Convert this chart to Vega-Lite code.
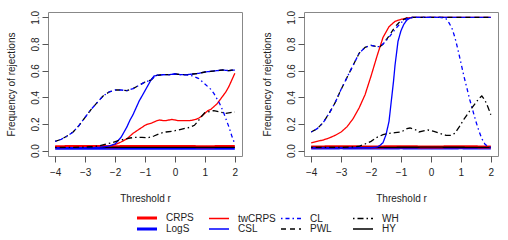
{
  "$schema": "https://vega.github.io/schema/vega-lite/v6.json",
  "padding": {"left": 5, "top": 9, "right": 5, "bottom": 0},
  "background": "white",
  "config": {
    "font": "Liberation Sans",
    "view": {"stroke": "#888888", "strokeWidth": 1},
    "axis": {"domain": false, "grid": false, "tickColor": "#555555", "tickSize": 6, "tickWidth": 1,
      "labelFont": "Liberation Sans", "labelFontSize": 10, "labelColor": "#222222",
      "titleFont": "Liberation Sans", "titleFontSize": 10, "titleFontWeight": "normal", "titleColor": "#222222",
      "labelFlush": false, "labelOverlap": false},
    "axisX": {"labelPadding": 5, "titleY": 45, "titleBaseline": "alphabetic"},
    "axisY": {"labelAngle": 270, "labelAlign": "center", "labelBaseline": "alphabetic", "labelPadding": 4,
      "titleX": -34, "titleBaseline": "alphabetic", "titleAngle": 270},
    "legend": {"labelFont": "Liberation Sans", "labelFontSize": 10, "labelColor": "#222222"}
  },
  "datasets": {
    "d": [
      {"p":"A","s":"LogS","r":-4,"v":0.018},{"p":"A","s":"LogS","r":-3,"v":0.019},{"p":"A","s":"LogS","r":-2,"v":0.018},{"p":"A","s":"LogS","r":-1,"v":0.019},{"p":"A","s":"LogS","r":0,"v":0.018},{"p":"A","s":"LogS","r":1,"v":0.019},{"p":"A","s":"LogS","r":2,"v":0.018},
      {"p":"A","s":"CRPS","r":-4,"v":0.03},{"p":"A","s":"CRPS","r":-3,"v":0.031},{"p":"A","s":"CRPS","r":-2,"v":0.03},{"p":"A","s":"CRPS","r":-1,"v":0.032},{"p":"A","s":"CRPS","r":0,"v":0.031},{"p":"A","s":"CRPS","r":1,"v":0.03},{"p":"A","s":"CRPS","r":2,"v":0.031},
      {"p":"A","s":"HY","r":-4,"v":0.024},{"p":"A","s":"HY","r":-2,"v":0.024},{"p":"A","s":"HY","r":0,"v":0.025},{"p":"A","s":"HY","r":2,"v":0.024},
      {"p":"A","s":"twCRPS","r":-4,"v":0.03},{"p":"A","s":"twCRPS","r":-3.5,"v":0.03},{"p":"A","s":"twCRPS","r":-3,"v":0.03},{"p":"A","s":"twCRPS","r":-2.5,"v":0.032},{"p":"A","s":"twCRPS","r":-2.2,"v":0.035},{"p":"A","s":"twCRPS","r":-2.0,"v":0.045},{"p":"A","s":"twCRPS","r":-1.8,"v":0.065},{"p":"A","s":"twCRPS","r":-1.6,"v":0.09},{"p":"A","s":"twCRPS","r":-1.4,"v":0.13},{"p":"A","s":"twCRPS","r":-1.2,"v":0.16},{"p":"A","s":"twCRPS","r":-1.0,"v":0.19},{"p":"A","s":"twCRPS","r":-0.9,"v":0.2},{"p":"A","s":"twCRPS","r":-0.8,"v":0.205},{"p":"A","s":"twCRPS","r":-0.7,"v":0.215},{"p":"A","s":"twCRPS","r":-0.6,"v":0.225},{"p":"A","s":"twCRPS","r":-0.5,"v":0.23},{"p":"A","s":"twCRPS","r":-0.4,"v":0.225},{"p":"A","s":"twCRPS","r":-0.3,"v":0.225},{"p":"A","s":"twCRPS","r":-0.2,"v":0.23},{"p":"A","s":"twCRPS","r":-0.1,"v":0.235},{"p":"A","s":"twCRPS","r":0,"v":0.23},{"p":"A","s":"twCRPS","r":0.1,"v":0.225},{"p":"A","s":"twCRPS","r":0.3,"v":0.225},{"p":"A","s":"twCRPS","r":0.5,"v":0.225},{"p":"A","s":"twCRPS","r":0.6,"v":0.23},{"p":"A","s":"twCRPS","r":0.7,"v":0.235},{"p":"A","s":"twCRPS","r":0.8,"v":0.245},{"p":"A","s":"twCRPS","r":0.9,"v":0.26},{"p":"A","s":"twCRPS","r":1.0,"v":0.28},{"p":"A","s":"twCRPS","r":1.1,"v":0.3},{"p":"A","s":"twCRPS","r":1.2,"v":0.31},{"p":"A","s":"twCRPS","r":1.3,"v":0.33},{"p":"A","s":"twCRPS","r":1.4,"v":0.35},{"p":"A","s":"twCRPS","r":1.5,"v":0.38},{"p":"A","s":"twCRPS","r":1.6,"v":0.41},{"p":"A","s":"twCRPS","r":1.7,"v":0.44},{"p":"A","s":"twCRPS","r":1.8,"v":0.48},{"p":"A","s":"twCRPS","r":1.9,"v":0.53},{"p":"A","s":"twCRPS","r":2.0,"v":0.58},
      {"p":"A","s":"CSL","r":-4,"v":0.022},{"p":"A","s":"CSL","r":-3,"v":0.022},{"p":"A","s":"CSL","r":-2.6,"v":0.024},{"p":"A","s":"CSL","r":-2.4,"v":0.028},{"p":"A","s":"CSL","r":-2.2,"v":0.035},{"p":"A","s":"CSL","r":-2.0,"v":0.05},{"p":"A","s":"CSL","r":-1.9,"v":0.075},{"p":"A","s":"CSL","r":-1.8,"v":0.1},{"p":"A","s":"CSL","r":-1.7,"v":0.14},{"p":"A","s":"CSL","r":-1.6,"v":0.18},{"p":"A","s":"CSL","r":-1.5,"v":0.23},{"p":"A","s":"CSL","r":-1.4,"v":0.27},{"p":"A","s":"CSL","r":-1.3,"v":0.32},{"p":"A","s":"CSL","r":-1.2,"v":0.37},{"p":"A","s":"CSL","r":-1.1,"v":0.41},{"p":"A","s":"CSL","r":-1.0,"v":0.45},{"p":"A","s":"CSL","r":-0.9,"v":0.49},{"p":"A","s":"CSL","r":-0.8,"v":0.53},{"p":"A","s":"CSL","r":-0.7,"v":0.56},{"p":"A","s":"CSL","r":-0.6,"v":0.565},{"p":"A","s":"CSL","r":-0.4,"v":0.57},{"p":"A","s":"CSL","r":-0.2,"v":0.57},{"p":"A","s":"CSL","r":0,"v":0.575},{"p":"A","s":"CSL","r":0.2,"v":0.57},{"p":"A","s":"CSL","r":0.4,"v":0.57},{"p":"A","s":"CSL","r":0.6,"v":0.575},{"p":"A","s":"CSL","r":0.8,"v":0.58},{"p":"A","s":"CSL","r":1.0,"v":0.59},{"p":"A","s":"CSL","r":1.2,"v":0.595},{"p":"A","s":"CSL","r":1.4,"v":0.6},{"p":"A","s":"CSL","r":1.6,"v":0.605},{"p":"A","s":"CSL","r":1.8,"v":0.6},{"p":"A","s":"CSL","r":2.0,"v":0.605},
      {"p":"A","s":"PWL","r":-4,"v":0.07},{"p":"A","s":"PWL","r":-3.8,"v":0.085},{"p":"A","s":"PWL","r":-3.6,"v":0.11},{"p":"A","s":"PWL","r":-3.4,"v":0.14},{"p":"A","s":"PWL","r":-3.2,"v":0.19},{"p":"A","s":"PWL","r":-3.0,"v":0.25},{"p":"A","s":"PWL","r":-2.8,"v":0.31},{"p":"A","s":"PWL","r":-2.6,"v":0.36},{"p":"A","s":"PWL","r":-2.4,"v":0.41},{"p":"A","s":"PWL","r":-2.2,"v":0.44},{"p":"A","s":"PWL","r":-2.0,"v":0.455},{"p":"A","s":"PWL","r":-1.8,"v":0.455},{"p":"A","s":"PWL","r":-1.6,"v":0.45},{"p":"A","s":"PWL","r":-1.4,"v":0.465},{"p":"A","s":"PWL","r":-1.2,"v":0.49},{"p":"A","s":"PWL","r":-1.0,"v":0.515},{"p":"A","s":"PWL","r":-0.8,"v":0.53},{"p":"A","s":"PWL","r":-0.7,"v":0.55},{"p":"A","s":"PWL","r":-0.6,"v":0.565},{"p":"A","s":"PWL","r":-0.4,"v":0.57},{"p":"A","s":"PWL","r":-0.2,"v":0.57},{"p":"A","s":"PWL","r":0,"v":0.575},{"p":"A","s":"PWL","r":0.2,"v":0.57},{"p":"A","s":"PWL","r":0.4,"v":0.57},{"p":"A","s":"PWL","r":0.6,"v":0.575},{"p":"A","s":"PWL","r":0.8,"v":0.58},{"p":"A","s":"PWL","r":1.0,"v":0.59},{"p":"A","s":"PWL","r":1.2,"v":0.595},{"p":"A","s":"PWL","r":1.4,"v":0.6},{"p":"A","s":"PWL","r":1.6,"v":0.605},{"p":"A","s":"PWL","r":1.8,"v":0.6},{"p":"A","s":"PWL","r":2.0,"v":0.61},
      {"p":"A","s":"CL","r":-4,"v":0.07},{"p":"A","s":"CL","r":-3.8,"v":0.085},{"p":"A","s":"CL","r":-3.6,"v":0.11},{"p":"A","s":"CL","r":-3.4,"v":0.14},{"p":"A","s":"CL","r":-3.2,"v":0.19},{"p":"A","s":"CL","r":-3.0,"v":0.25},{"p":"A","s":"CL","r":-2.8,"v":0.31},{"p":"A","s":"CL","r":-2.6,"v":0.36},{"p":"A","s":"CL","r":-2.4,"v":0.41},{"p":"A","s":"CL","r":-2.2,"v":0.44},{"p":"A","s":"CL","r":-2.0,"v":0.455},{"p":"A","s":"CL","r":-1.8,"v":0.455},{"p":"A","s":"CL","r":-1.6,"v":0.45},{"p":"A","s":"CL","r":-1.4,"v":0.465},{"p":"A","s":"CL","r":-1.2,"v":0.49},{"p":"A","s":"CL","r":-1.0,"v":0.515},{"p":"A","s":"CL","r":-0.8,"v":0.53},{"p":"A","s":"CL","r":-0.7,"v":0.55},{"p":"A","s":"CL","r":-0.6,"v":0.565},{"p":"A","s":"CL","r":-0.4,"v":0.57},{"p":"A","s":"CL","r":-0.2,"v":0.57},{"p":"A","s":"CL","r":0,"v":0.575},{"p":"A","s":"CL","r":0.2,"v":0.57},{"p":"A","s":"CL","r":0.4,"v":0.568},{"p":"A","s":"CL","r":0.5,"v":0.565},{"p":"A","s":"CL","r":0.6,"v":0.56},{"p":"A","s":"CL","r":0.7,"v":0.55},{"p":"A","s":"CL","r":0.8,"v":0.54},{"p":"A","s":"CL","r":0.9,"v":0.52},{"p":"A","s":"CL","r":1.0,"v":0.5},{"p":"A","s":"CL","r":1.1,"v":0.48},{"p":"A","s":"CL","r":1.2,"v":0.46},{"p":"A","s":"CL","r":1.3,"v":0.43},{"p":"A","s":"CL","r":1.4,"v":0.39},{"p":"A","s":"CL","r":1.5,"v":0.35},{"p":"A","s":"CL","r":1.6,"v":0.3},{"p":"A","s":"CL","r":1.7,"v":0.24},{"p":"A","s":"CL","r":1.8,"v":0.18},{"p":"A","s":"CL","r":1.9,"v":0.11},{"p":"A","s":"CL","r":2.0,"v":0.05},
      {"p":"A","s":"WH","r":-4,"v":0.025},{"p":"A","s":"WH","r":-3.5,"v":0.025},{"p":"A","s":"WH","r":-3,"v":0.027},{"p":"A","s":"WH","r":-2.7,"v":0.03},{"p":"A","s":"WH","r":-2.5,"v":0.038},{"p":"A","s":"WH","r":-2.3,"v":0.05},{"p":"A","s":"WH","r":-2.1,"v":0.06},{"p":"A","s":"WH","r":-1.9,"v":0.075},{"p":"A","s":"WH","r":-1.7,"v":0.085},{"p":"A","s":"WH","r":-1.5,"v":0.095},{"p":"A","s":"WH","r":-1.3,"v":0.1},{"p":"A","s":"WH","r":-1.1,"v":0.1},{"p":"A","s":"WH","r":-0.9,"v":0.097},{"p":"A","s":"WH","r":-0.7,"v":0.11},{"p":"A","s":"WH","r":-0.5,"v":0.13},{"p":"A","s":"WH","r":-0.3,"v":0.14},{"p":"A","s":"WH","r":-0.1,"v":0.145},{"p":"A","s":"WH","r":0.1,"v":0.155},{"p":"A","s":"WH","r":0.3,"v":0.165},{"p":"A","s":"WH","r":0.5,"v":0.175},{"p":"A","s":"WH","r":0.65,"v":0.19},{"p":"A","s":"WH","r":0.8,"v":0.23},{"p":"A","s":"WH","r":0.9,"v":0.26},{"p":"A","s":"WH","r":1.0,"v":0.285},{"p":"A","s":"WH","r":1.2,"v":0.295},{"p":"A","s":"WH","r":1.3,"v":0.3},{"p":"A","s":"WH","r":1.5,"v":0.29},{"p":"A","s":"WH","r":1.7,"v":0.28},{"p":"A","s":"WH","r":1.85,"v":0.285},{"p":"A","s":"WH","r":2.0,"v":0.29},

      {"p":"B","s":"LogS","r":-4,"v":0.02},{"p":"B","s":"LogS","r":-3,"v":0.021},{"p":"B","s":"LogS","r":-2,"v":0.02},{"p":"B","s":"LogS","r":-1,"v":0.021},{"p":"B","s":"LogS","r":0,"v":0.02},{"p":"B","s":"LogS","r":1,"v":0.021},{"p":"B","s":"LogS","r":2,"v":0.02},
      {"p":"B","s":"CRPS","r":-4,"v":0.028},{"p":"B","s":"CRPS","r":-3,"v":0.029},{"p":"B","s":"CRPS","r":-2,"v":0.028},{"p":"B","s":"CRPS","r":-1,"v":0.029},{"p":"B","s":"CRPS","r":0,"v":0.028},{"p":"B","s":"CRPS","r":1,"v":0.029},{"p":"B","s":"CRPS","r":2,"v":0.028},
      {"p":"B","s":"HY","r":-4,"v":0.025},{"p":"B","s":"HY","r":-2,"v":0.025},{"p":"B","s":"HY","r":0,"v":0.026},{"p":"B","s":"HY","r":2,"v":0.025},
      {"p":"B","s":"twCRPS","r":-4,"v":0.058},{"p":"B","s":"twCRPS","r":-3.8,"v":0.07},{"p":"B","s":"twCRPS","r":-3.6,"v":0.08},{"p":"B","s":"twCRPS","r":-3.4,"v":0.095},{"p":"B","s":"twCRPS","r":-3.2,"v":0.115},{"p":"B","s":"twCRPS","r":-3.0,"v":0.14},{"p":"B","s":"twCRPS","r":-2.8,"v":0.18},{"p":"B","s":"twCRPS","r":-2.6,"v":0.24},{"p":"B","s":"twCRPS","r":-2.4,"v":0.32},{"p":"B","s":"twCRPS","r":-2.2,"v":0.42},{"p":"B","s":"twCRPS","r":-2.0,"v":0.56},{"p":"B","s":"twCRPS","r":-1.8,"v":0.71},{"p":"B","s":"twCRPS","r":-1.6,"v":0.85},{"p":"B","s":"twCRPS","r":-1.4,"v":0.93},{"p":"B","s":"twCRPS","r":-1.2,"v":0.97},{"p":"B","s":"twCRPS","r":-1.0,"v":0.985},{"p":"B","s":"twCRPS","r":-0.8,"v":0.995},{"p":"B","s":"twCRPS","r":-0.6,"v":1.0},{"p":"B","s":"twCRPS","r":0,"v":1.0},{"p":"B","s":"twCRPS","r":1,"v":1.0},{"p":"B","s":"twCRPS","r":2,"v":1.0},
      {"p":"B","s":"CSL","r":-4,"v":0.022},{"p":"B","s":"CSL","r":-2,"v":0.022},{"p":"B","s":"CSL","r":-1.8,"v":0.027},{"p":"B","s":"CSL","r":-1.7,"v":0.04},{"p":"B","s":"CSL","r":-1.6,"v":0.06},{"p":"B","s":"CSL","r":-1.5,"v":0.12},{"p":"B","s":"CSL","r":-1.4,"v":0.22},{"p":"B","s":"CSL","r":-1.3,"v":0.42},{"p":"B","s":"CSL","r":-1.25,"v":0.52},{"p":"B","s":"CSL","r":-1.2,"v":0.64},{"p":"B","s":"CSL","r":-1.1,"v":0.82},{"p":"B","s":"CSL","r":-1.0,"v":0.9},{"p":"B","s":"CSL","r":-0.9,"v":0.95},{"p":"B","s":"CSL","r":-0.8,"v":0.98},{"p":"B","s":"CSL","r":-0.7,"v":0.995},{"p":"B","s":"CSL","r":-0.6,"v":1.0},{"p":"B","s":"CSL","r":0,"v":1.0},{"p":"B","s":"CSL","r":1,"v":1.0},{"p":"B","s":"CSL","r":2,"v":1.0},
      {"p":"B","s":"PWL","r":-4,"v":0.14},{"p":"B","s":"PWL","r":-3.8,"v":0.165},{"p":"B","s":"PWL","r":-3.6,"v":0.21},{"p":"B","s":"PWL","r":-3.4,"v":0.28},{"p":"B","s":"PWL","r":-3.2,"v":0.36},{"p":"B","s":"PWL","r":-3.0,"v":0.46},{"p":"B","s":"PWL","r":-2.8,"v":0.55},{"p":"B","s":"PWL","r":-2.6,"v":0.64},{"p":"B","s":"PWL","r":-2.4,"v":0.73},{"p":"B","s":"PWL","r":-2.2,"v":0.775},{"p":"B","s":"PWL","r":-2.0,"v":0.79},{"p":"B","s":"PWL","r":-1.8,"v":0.78},{"p":"B","s":"PWL","r":-1.7,"v":0.78},{"p":"B","s":"PWL","r":-1.6,"v":0.8},{"p":"B","s":"PWL","r":-1.4,"v":0.86},{"p":"B","s":"PWL","r":-1.2,"v":0.93},{"p":"B","s":"PWL","r":-1.0,"v":0.975},{"p":"B","s":"PWL","r":-0.8,"v":0.995},{"p":"B","s":"PWL","r":-0.6,"v":1.0},{"p":"B","s":"PWL","r":0,"v":1.0},{"p":"B","s":"PWL","r":1,"v":1.0},{"p":"B","s":"PWL","r":2,"v":1.0},
      {"p":"B","s":"CL","r":-4,"v":0.14},{"p":"B","s":"CL","r":-3.8,"v":0.165},{"p":"B","s":"CL","r":-3.6,"v":0.21},{"p":"B","s":"CL","r":-3.4,"v":0.28},{"p":"B","s":"CL","r":-3.2,"v":0.36},{"p":"B","s":"CL","r":-3.0,"v":0.46},{"p":"B","s":"CL","r":-2.8,"v":0.55},{"p":"B","s":"CL","r":-2.6,"v":0.64},{"p":"B","s":"CL","r":-2.4,"v":0.73},{"p":"B","s":"CL","r":-2.2,"v":0.775},{"p":"B","s":"CL","r":-2.0,"v":0.79},{"p":"B","s":"CL","r":-1.8,"v":0.78},{"p":"B","s":"CL","r":-1.7,"v":0.78},{"p":"B","s":"CL","r":-1.6,"v":0.8},{"p":"B","s":"CL","r":-1.4,"v":0.85},{"p":"B","s":"CL","r":-1.2,"v":0.91},{"p":"B","s":"CL","r":-1.0,"v":0.96},{"p":"B","s":"CL","r":-0.8,"v":0.99},{"p":"B","s":"CL","r":-0.6,"v":1.0},{"p":"B","s":"CL","r":0.3,"v":1.0},{"p":"B","s":"CL","r":0.5,"v":0.99},{"p":"B","s":"CL","r":0.6,"v":0.96},{"p":"B","s":"CL","r":0.7,"v":0.92},{"p":"B","s":"CL","r":0.8,"v":0.85},{"p":"B","s":"CL","r":0.9,"v":0.76},{"p":"B","s":"CL","r":1.0,"v":0.66},{"p":"B","s":"CL","r":1.1,"v":0.56},{"p":"B","s":"CL","r":1.2,"v":0.47},{"p":"B","s":"CL","r":1.3,"v":0.38},{"p":"B","s":"CL","r":1.4,"v":0.3},{"p":"B","s":"CL","r":1.5,"v":0.22},{"p":"B","s":"CL","r":1.6,"v":0.15},{"p":"B","s":"CL","r":1.7,"v":0.09},{"p":"B","s":"CL","r":1.8,"v":0.05},{"p":"B","s":"CL","r":1.9,"v":0.03},{"p":"B","s":"CL","r":2.0,"v":0.025},
      {"p":"B","s":"WH","r":-4,"v":0.025},{"p":"B","s":"WH","r":-3,"v":0.025},{"p":"B","s":"WH","r":-2.6,"v":0.028},{"p":"B","s":"WH","r":-2.4,"v":0.033},{"p":"B","s":"WH","r":-2.2,"v":0.05},{"p":"B","s":"WH","r":-2.0,"v":0.07},{"p":"B","s":"WH","r":-1.8,"v":0.1},{"p":"B","s":"WH","r":-1.6,"v":0.12},{"p":"B","s":"WH","r":-1.4,"v":0.13},{"p":"B","s":"WH","r":-1.2,"v":0.135},{"p":"B","s":"WH","r":-1.0,"v":0.14},{"p":"B","s":"WH","r":-0.8,"v":0.165},{"p":"B","s":"WH","r":-0.7,"v":0.17},{"p":"B","s":"WH","r":-0.5,"v":0.155},{"p":"B","s":"WH","r":-0.4,"v":0.14},{"p":"B","s":"WH","r":-0.2,"v":0.15},{"p":"B","s":"WH","r":-0.1,"v":0.155},{"p":"B","s":"WH","r":0.1,"v":0.145},{"p":"B","s":"WH","r":0.3,"v":0.13},{"p":"B","s":"WH","r":0.5,"v":0.115},{"p":"B","s":"WH","r":0.65,"v":0.115},{"p":"B","s":"WH","r":0.8,"v":0.13},{"p":"B","s":"WH","r":0.95,"v":0.18},{"p":"B","s":"WH","r":1.1,"v":0.235},{"p":"B","s":"WH","r":1.3,"v":0.3},{"p":"B","s":"WH","r":1.5,"v":0.36},{"p":"B","s":"WH","r":1.6,"v":0.39},{"p":"B","s":"WH","r":1.7,"v":0.41},{"p":"B","s":"WH","r":1.8,"v":0.38},{"p":"B","s":"WH","r":1.9,"v":0.33},{"p":"B","s":"WH","r":2.0,"v":0.27}
    ]
  },
  "spacing": 62,
  "bounds": "flush",
  "resolve": {
    "scale": {"color": "shared", "strokeDash": "shared", "strokeWidth": "shared"},
    "legend": {"color": "shared", "strokeDash": "shared", "strokeWidth": "shared"}
  },
  "hconcat": [
    {
      "width": 194, "height": 144,
      "data": {"name": "d"},
      "transform": [{"filter": "datum.p == 'A'"}],
      "mark": {"type": "line", "clip": true},
      "encoding": {
        "x": {"field": "r", "type": "quantitative", "scale": {"domain": [-4.24, 2.24], "nice": false, "zero": false}, "axis": {"values": [-4, -3, -2, -1, 0, 1, 2], "format": "d", "title": "Threshold r"}},
        "y": {"field": "v", "type": "quantitative", "scale": {"domain": [-0.04, 1.04], "nice": false, "zero": false}, "axis": {"values": [0, 0.2, 0.4, 0.6, 0.8, 1], "format": ".1f", "title": "Frequency of rejections"}},
        "color": {"field": "s", "type": "nominal", "scale": {"domain": ["CRPS", "twCRPS", "CL", "WH", "LogS", "CSL", "PWL", "HY"], "range": ["#ff0000", "#ff0000", "#0000ff", "#000000", "#0000ff", "#0000ff", "#000000", "#000000"]},
          "legend": {"title": null, "orient": "none", "legendX": 94, "legendY": 201, "columns": 4, "direction": "horizontal", "gridAlign": "all", "symbolType": "M-4,0H4", "symbolSize": 25, "labelOffset": 14, "columnPadding": 2, "rowPadding": -1}},
        "strokeDash": {"field": "s", "type": "nominal", "scale": {"domain": ["CRPS", "twCRPS", "CL", "WH", "LogS", "CSL", "PWL", "HY"], "range": [[1, 0], [1, 0], [1.5, 3, 4, 3], [1.5, 3, 6, 3], [1, 0], [1, 0], [5, 4], [1, 0]]}},
        "strokeWidth": {"field": "s", "type": "nominal", "scale": {"type": "ordinal", "domain": ["CRPS", "twCRPS", "CL", "WH", "LogS", "CSL", "PWL", "HY"], "range": [3, 1.3, 1.3, 1.3, 3, 1.3, 1.3, 1.3]}}
      }
    },
    {
      "width": 194, "height": 144,
      "data": {"name": "d"},
      "transform": [{"filter": "datum.p == 'B'"}],
      "mark": {"type": "line", "clip": true},
      "encoding": {
        "x": {"field": "r", "type": "quantitative", "scale": {"domain": [-4.24, 2.24], "nice": false, "zero": false}, "axis": {"values": [-4, -3, -2, -1, 0, 1, 2], "format": "d", "title": "Threshold r"}},
        "y": {"field": "v", "type": "quantitative", "scale": {"domain": [-0.04, 1.04], "nice": false, "zero": false}, "axis": {"values": [0, 0.2, 0.4, 0.6, 0.8, 1], "format": ".1f", "title": "Frequency of rejections"}},
        "color": {"field": "s", "type": "nominal", "scale": {"domain": ["CRPS", "twCRPS", "CL", "WH", "LogS", "CSL", "PWL", "HY"], "range": ["#ff0000", "#ff0000", "#0000ff", "#000000", "#0000ff", "#0000ff", "#000000", "#000000"]},
          "legend": {"title": null, "orient": "none", "legendX": 94, "legendY": 201, "columns": 4, "direction": "horizontal", "gridAlign": "all", "symbolType": "M-4,0H4", "symbolSize": 25, "labelOffset": 14, "columnPadding": 2, "rowPadding": -1}},
        "strokeDash": {"field": "s", "type": "nominal", "scale": {"domain": ["CRPS", "twCRPS", "CL", "WH", "LogS", "CSL", "PWL", "HY"], "range": [[1, 0], [1, 0], [1.5, 3, 4, 3], [1.5, 3, 6, 3], [1, 0], [1, 0], [5, 4], [1, 0]]}},
        "strokeWidth": {"field": "s", "type": "nominal", "scale": {"type": "ordinal", "domain": ["CRPS", "twCRPS", "CL", "WH", "LogS", "CSL", "PWL", "HY"], "range": [3, 1.3, 1.3, 1.3, 3, 1.3, 1.3, 1.3]}}
      }
    }
  ]
}
